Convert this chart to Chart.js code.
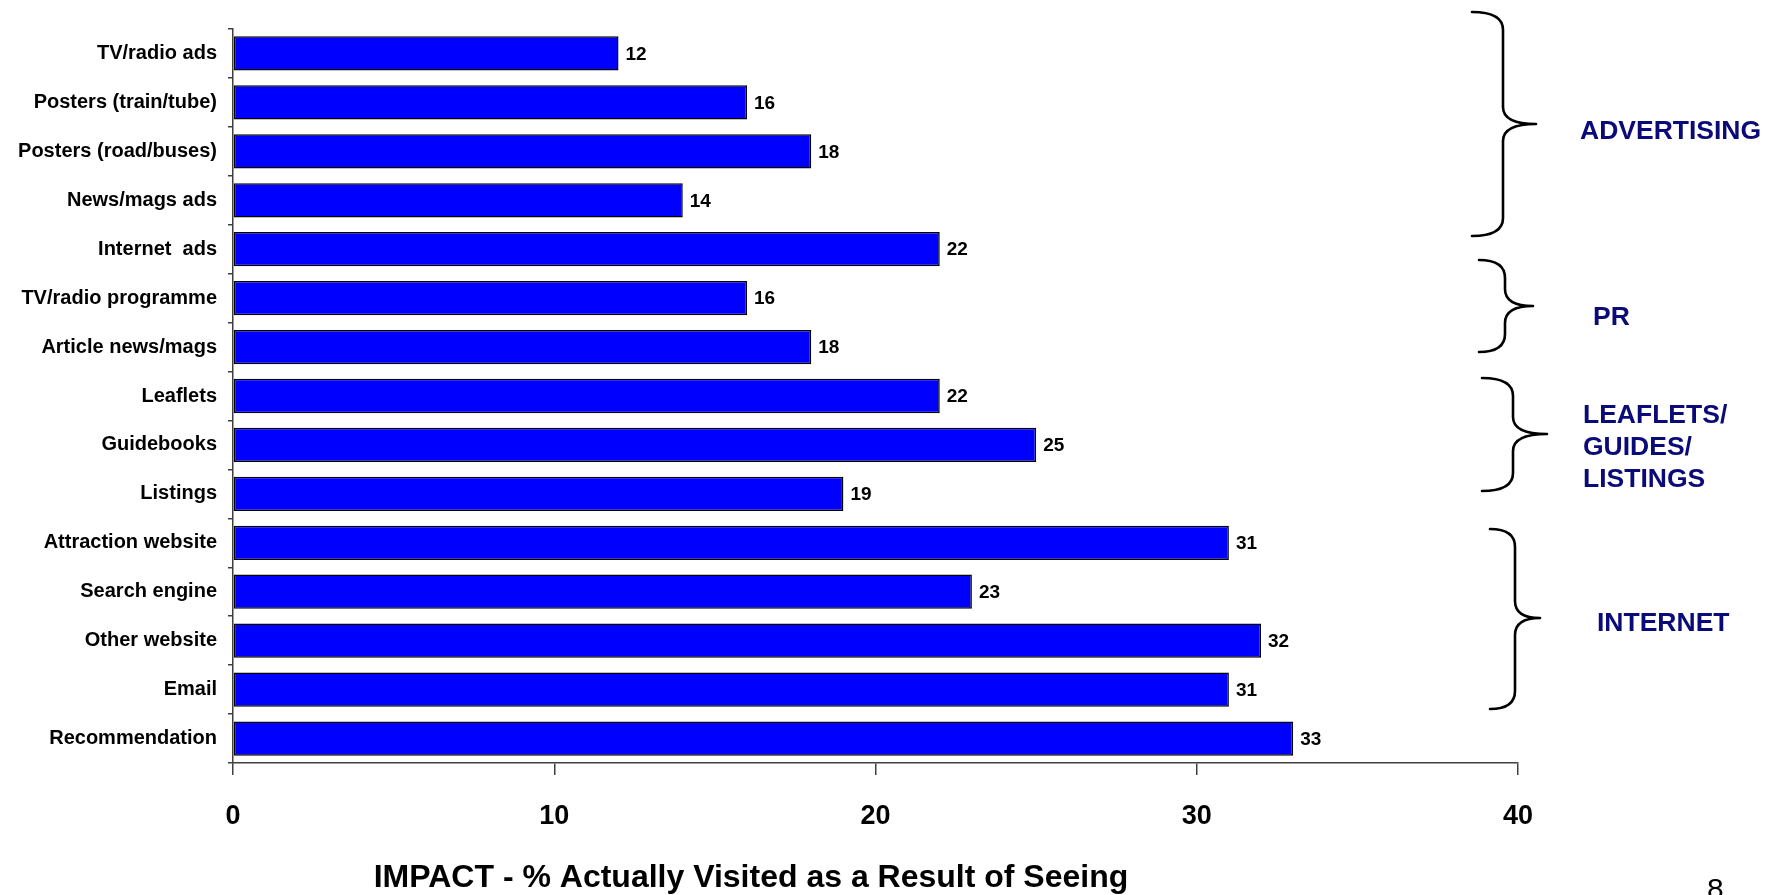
<!DOCTYPE html>
<html>
<head>
<meta charset="utf-8">
<script src="https://cdn.jsdelivr.net/npm/chart.js@4.4.1/dist/chart.umd.min.js"></script>
<style>
  html, body { margin: 0; padding: 0; background: #ffffff; }
  #wrap { width: 1775px; height: 895px; position: relative; }
</style>
</head>
<body>
<div id="wrap"><canvas id="chart" width="1775" height="895"></canvas></div>
<script>
// Media sources and the share of people who actually visited after seeing them
const categories = [
  'TV/radio ads', 'Posters (train/tube)', 'Posters (road/buses)', 'News/mags ads',
  'Internet  ads', 'TV/radio programme', 'Article news/mags', 'Leaflets',
  'Guidebooks', 'Listings', 'Attraction website', 'Search engine',
  'Other website', 'Email', 'Recommendation'
];
const visitedPct = [12, 16, 18, 14, 22, 16, 18, 22, 25, 19, 31, 23, 32, 31, 33];
const xTickValues = [0, 10, 20, 30, 40];
const axisTitle = 'IMPACT - % Actually Visited as a Result of Seeing';
const groupNames = ['ADVERTISING', 'PR', 'LEAFLETS/\nGUIDES/\nLISTINGS', 'INTERNET'];
const pageNumber = '8';

const FONT = '"Liberation Sans", Arial, sans-serif';
const NAVY = '#0a0a78';

// Brace geometry for the media groups (top end, spine, tip, bottom end)
const braceLayout = [
  { x0: 1472, xs: 1503, xt: 1536, yTop: 12,  yMid: 124, yBot: 236, label: { x: 1580, y: 139 } },
  { x0: 1479, xs: 1505, xt: 1533, yTop: 260, yMid: 306, yBot: 352, label: { x: 1593, y: 325 } },
  { x0: 1482, xs: 1513, xt: 1547, yTop: 378, yMid: 434, yBot: 491, label: { x: 1583, y: 423 } },
  { x0: 1490, xs: 1515, xt: 1540, yTop: 529, yMid: 618, yBot: 709, label: { x: 1597, y: 631 } }
];

const annotations = {
  id: 'annotations',
  afterDatasetsDraw(chart) {
    const ctx = chart.ctx;
    const meta = chart.getDatasetMeta(0);
    // value labels at the end of each bar
    ctx.save();
    ctx.fillStyle = '#000';
    ctx.font = 'bold 19px ' + FONT;
    ctx.textAlign = 'left';
    ctx.textBaseline = 'middle';
    meta.data.forEach((bar, i) => {
      ctx.fillText(String(visitedPct[i]), bar.x + 7, bar.y + 1);
    });
    ctx.restore();
  },
  afterDraw(chart) {
    const ctx = chart.ctx;
    ctx.save();
    // braces
    ctx.strokeStyle = '#000';
    ctx.lineWidth = 2.6;
    ctx.lineCap = 'round';
    braceLayout.forEach(b => {
      const r = Math.min(18, (b.yMid - b.yTop) / 2.5);
      const r2 = Math.min(17, (b.yMid - b.yTop) / 2.5);
      ctx.beginPath();
      ctx.moveTo(b.x0, b.yTop);
      ctx.quadraticCurveTo(b.xs, b.yTop, b.xs, b.yTop + r);
      ctx.lineTo(b.xs, b.yMid - r2);
      ctx.quadraticCurveTo(b.xs, b.yMid, b.xt, b.yMid);
      ctx.moveTo(b.xt, b.yMid);
      ctx.quadraticCurveTo(b.xs, b.yMid, b.xs, b.yMid + r2);
      ctx.lineTo(b.xs, b.yBot - r);
      ctx.quadraticCurveTo(b.xs, b.yBot, b.x0, b.yBot);
      ctx.stroke();
    });
    // group names
    ctx.fillStyle = NAVY;
    ctx.font = 'bold 26.5px ' + FONT;
    ctx.textAlign = 'left';
    ctx.textBaseline = 'alphabetic';
    braceLayout.forEach((b, i) => {
      groupNames[i].split('\n').forEach((line, k) => {
        ctx.fillText(line, b.label.x, b.label.y + k * 32);
      });
    });
    // axis title
    ctx.fillStyle = '#000';
    ctx.font = 'bold 32px ' + FONT;
    ctx.textAlign = 'center';
    ctx.fillText(axisTitle, 751, 887);
    // page number
    ctx.font = '30px ' + FONT;
    ctx.textAlign = 'left';
    ctx.textBaseline = 'top';
    ctx.fillText(pageNumber, 1707, 876);
    ctx.restore();
  }
};

new Chart(document.getElementById('chart'), {
  type: 'bar',
  data: {
    labels: categories,
    datasets: [{
      data: visitedPct,
      backgroundColor: '#0000ff',
      borderColor: '#000000',
      borderWidth: 1.5,
      borderSkipped: false,
      categoryPercentage: 1,
      barPercentage: 0.7
    }]
  },
  options: {
    indexAxis: 'y',
    responsive: false,
    animation: false,
    layout: { padding: { top: 29, right: 257, left: 0, bottom: 0 } },
    plugins: { legend: { display: false }, tooltip: { enabled: false }, title: { display: false } },
    scales: {
      x: {
        min: 0, max: 40,
        afterBuildTicks: (scale) => { scale.ticks = xTickValues.map(v => ({ value: v })); },
        afterFit: (scale) => { scale.height = 132; },
        grid: { drawOnChartArea: false, drawTicks: true, tickLength: 12, color: '#404040', lineWidth: 1.5 },
        border: { display: true, color: '#404040', width: 1.5 },
        ticks: { color: '#000', padding: 25, font: { family: FONT, size: 27, weight: 'bold' } }
      },
      y: {
        afterFit: (scale) => { scale.width = 233; },
        grid: { drawOnChartArea: false, drawTicks: true, tickLength: 5, offset: true, color: '#404040', lineWidth: 1.5 },
        border: { display: true, color: '#404040', width: 1.5 },
        ticks: { color: '#000', padding: 11, autoSkip: false, font: { family: FONT, size: 20, weight: 'bold' } }
      }
    }
  },
  plugins: [annotations]
});
</script>
</body>
</html>
